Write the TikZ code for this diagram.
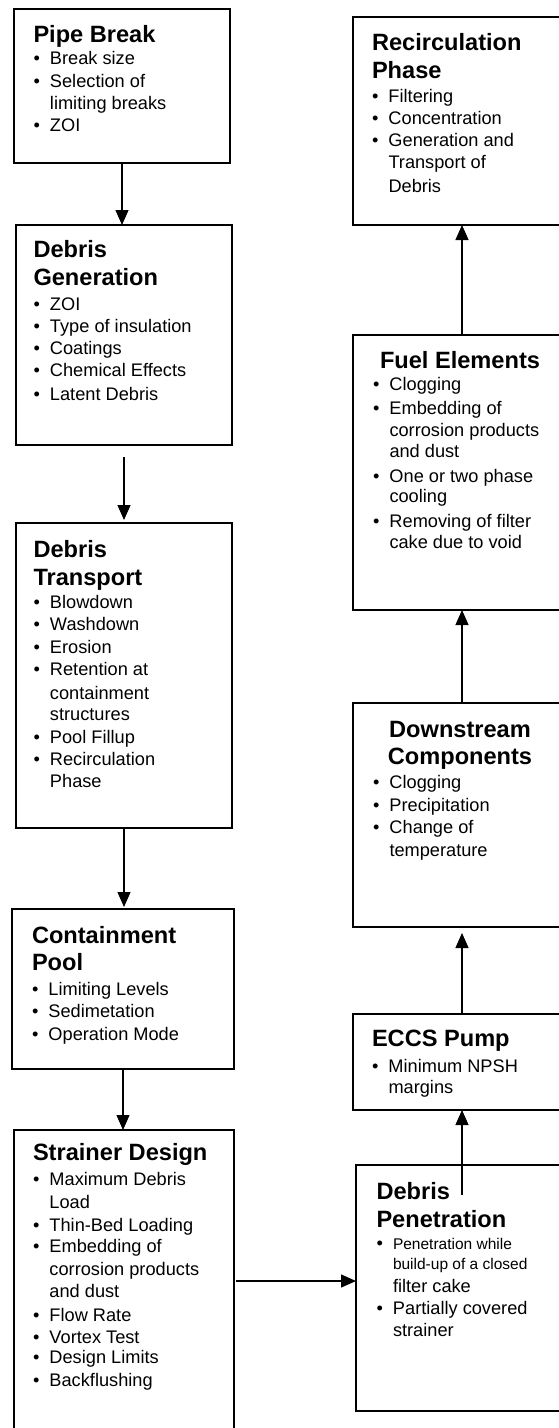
\documentclass[tikz,border=0pt]{standalone}
\usepackage{fontspec}
\setmainfont{Liberation Sans}
\usetikzlibrary{arrows.meta}
\newcommand\bodyfont{\fontsize{18.2}{22}\selectfont}
\newcommand\titlefont{\fontsize{23.6}{28}\selectfont\bfseries}
\newcommand\smallfont{\fontsize{15.5}{20}\selectfont}
\newcommand\myTL[2]{\baselineskip=#1pt\hbox{\titlefont #2}}
\newcommand\myCT[2]{\baselineskip=#1pt\hbox to 174pt{\hss\titlefont #2\hss}}
\newcommand\myBL[2]{\baselineskip=#1pt\hbox{\makebox[16.5pt][l]{\textbullet}#2}}
\newcommand\myCL[2]{\baselineskip=#1pt\hbox{\hspace*{16.5pt}#2}}
\newcommand\blk[1]{\vtop{\bodyfont\lineskiplimit=-\maxdimen #1}}
\begin{document}
\begin{tikzpicture}[x=1pt,y=-1pt,
  box/.style={draw, line width=1.8pt, inner sep=0pt, outer sep=0pt, anchor=north west},
  txt/.style={inner sep=0pt, outer sep=0pt, anchor=base west},
  arr/.style={line width=1.2pt, -{Triangle[length=15pt,width=13pt]}}]
\clip (0,0) rectangle (559,1428);
\fill[white] (0,0) rectangle (559,1428);
% left column boxes
\node[box, minimum width=216pt, minimum height=154pt] (pipe) at (14,9) {};
\node[box, minimum width=216pt, minimum height=220pt] (gen) at (16,225) {};
\node[box, minimum width=216pt, minimum height=305pt] (trans) at (16,523) {};
\node[box, minimum width=222pt, minimum height=160pt] (pool) at (12,909) {};
\node[box, minimum width=220pt, minimum height=310pt] (strainer) at (14,1130) {};
% right column boxes
\node[box, minimum width=214pt, minimum height=208pt] (recirc) at (353,17) {};
\node[box, minimum width=214pt, minimum height=275pt] (fuel) at (353,335) {};
\node[box, minimum width=214pt, minimum height=224pt] (down) at (353,703) {};
\node[box, minimum width=214pt, minimum height=96pt] (eccs) at (353,1014) {};
\node[box, minimum width=211pt, minimum height=246pt] (pen) at (356,1165) {};
% texts
\node[txt] (pipe-t) at (33.5,42) {\blk{%
  \myTL{0}{Pipe Break}
  \myBL{22}{Break size}
  \myBL{23}{Selection of}
  \myCL{22}{limiting breaks}
  \myBL{22}{ZOI}}};
\node[txt] (gen-t) at (33.5,257) {\blk{%
  \myTL{0}{Debris}
  \myTL{28}{Generation}
  \myBL{25}{ZOI}
  \myBL{22}{Type of insulation}
  \myBL{22}{Coatings}
  \myBL{22}{Chemical Effects}
  \myBL{24}{Latent Debris}}};
\node[txt] (trans-t) at (33.5,557) {\blk{%
  \myTL{0}{Debris}
  \myTL{28}{Transport}
  \myBL{23}{Blowdown}
  \myBL{22}{Washdown}
  \myBL{23}{Erosion}
  \myBL{22}{Retention at}
  \myCL{24}{containment}
  \myCL{21}{structures}
  \myBL{23}{Pool Fillup}
  \myBL{22}{Recirculation}
  \myCL{22}{Phase}}};
\node[txt] (pool-t) at (32,943) {\blk{%
  \myTL{0}{Containment}
  \myTL{27}{Pool}
  \myBL{25}{Limiting Levels}
  \myBL{22}{Sedimetation}
  \myBL{23}{Operation Mode}}};
\node[txt] (strainer-t) at (33,1160) {\blk{%
  \myTL{0}{Strainer Design}
  \myBL{25}{Maximum Debris}
  \myCL{23}{Load}
  \myBL{23}{Thin-Bed Loading}
  \myBL{21}{Embedding of}
  \myCL{23}{corrosion products}
  \myCL{22}{and dust}
  \myBL{24}{Flow Rate}
  \myBL{22}{Vortex Test}
  \myBL{20}{Design Limits}
  \myBL{23}{Backflushing}}};
\node[txt] (recirc-t) at (372,50) {\blk{%
  \myTL{0}{Recirculation}
  \myTL{28}{Phase}
  \myBL{24}{Filtering}
  \myBL{22}{Concentration}
  \myBL{22}{Generation and}
  \myCL{22}{Transport of}
  \myCL{24}{Debris}}};
\node[txt] (fuel-t) at (373,368) {\blk{%
  \myCT{0}{Fuel Elements}
  \myBL{22}{Clogging}
  \myBL{24}{Embedding of}
  \myCL{22}{corrosion products}
  \myCL{21}{and dust}
  \myBL{25}{One or two phase}
  \myCL{20}{cooling}
  \myBL{25}{Removing of filter}
  \myCL{21}{cake due to void}}};
\node[txt] (down-t) at (373,737) {\blk{%
  \myCT{0}{Downstream}
  \myCT{27}{Components}
  \myBL{24}{Clogging}
  \myBL{23}{Precipitation}
  \myBL{22}{Change of}
  \myCL{23}{temperature}}};
\node[txt] (eccs-t) at (372,1046) {\blk{%
  \myTL{0}{ECCS Pump}
  \myBL{26}{Minimum NPSH}
  \myCL{21}{margins}}};
\node[txt] (pen-t) at (376.5,1199) {\blk{%
  \myTL{0}{Debris}
  \myTL{28}{Penetration}
  \myBL{22}{\smallfont Penetration while}
  \myCL{20}{\smallfont build-up of a closed}
  \myCL{23}{filter cake}
  \myBL{22}{Partially covered}
  \myCL{22}{strainer}}};
% connectors
\draw[arr] (pipe.south) -- (pipe.south |- gen.north);
\draw[arr, shorten <=12pt, shorten >=3pt] (gen.south) -- (gen.south |- trans.north);
\draw[arr, shorten >=2pt] (trans.south) -- (trans.south |- pool.north);
\draw[arr] (pool.south) -- (pool.south |- strainer.north);
\coordinate (hl) at (0,1281);
\draw[arr, shorten <=2pt] (strainer.east |- hl) -- (pen.west |- hl);
\coordinate (pin) at (462,1195);
\draw[arr] (pin) -- (pin |- eccs.south);
\draw[arr, shorten >=6pt] (eccs.north -| pin) -- (pin |- down.south);
\draw[arr] (down.north -| pin) -- (pin |- fuel.south);
\draw[arr] (fuel.north -| pin) -- (pin |- recirc.south);
\end{tikzpicture}
\end{document}
